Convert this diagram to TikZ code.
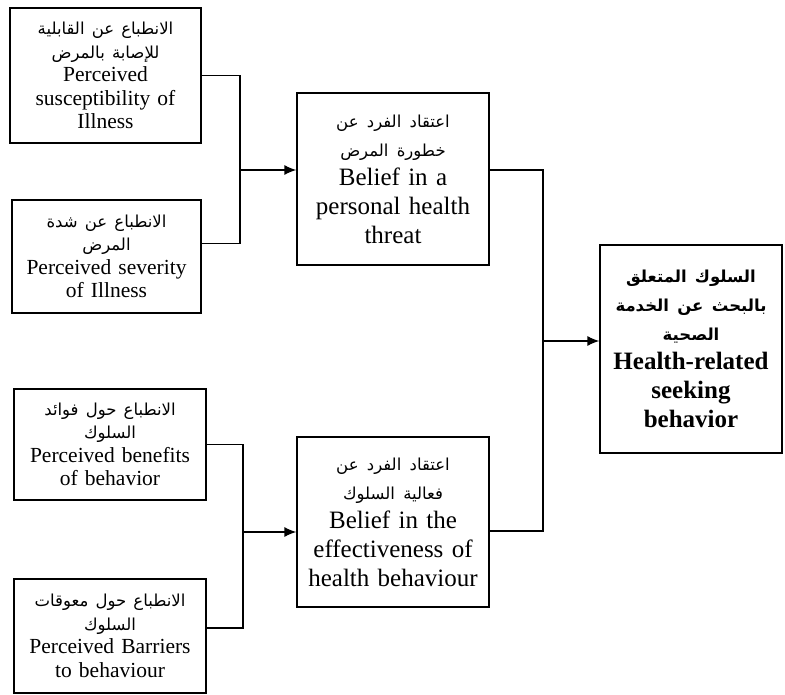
\documentclass[tikz,border=0pt]{standalone}
\usepackage{fontspec}
\setmainfont{Liberation Serif}
\newfontfamily\arabicfont[Script=Arabic]{DejaVu Sans}
\TeXXeTstate=1
\usetikzlibrary{arrows.meta,positioning}
\newcommand\artext[1]{{\arabicfont\fontsize{16.5}{23}\selectfont\beginR #1\endR}}

\begin{document}
\begin{tikzpicture}[x=1pt,y=-1pt,
  box/.style={draw,line width=1.3pt,inner sep=0pt,align=center},
  smallbox/.style={box,font=\fontsize{21.5}{23.5}\selectfont},
  midbox/.style={box,font=\fontsize{25}{29}\selectfont},
  link/.style={line width=1.3pt},
  arr/.style={line width=1.3pt,-{Latex[length=12pt,width=10pt]}}]
\useasboundingbox (0,0) rectangle (785,695);
% perception boxes
\node[smallbox,minimum width=191pt,minimum height=135pt,text width=185pt] (sus) at (105.5,75.5)
  {\artext{الانطباع عن القابلية}\\\artext{للإصابة بالمرض}\\Perceived\\susceptibility of\\Illness};
\node[smallbox,minimum width=189pt,minimum height=113pt,text width=183pt] (sev) at (106.5,256.5)
  {\artext{الانطباع عن شدة}\\\artext{المرض}\\Perceived severity\\of Illness};
\node[smallbox,minimum width=192pt,minimum height=111pt,text width=186pt] (ben) at (110,444.5)
  {\artext{الانطباع حول فوائد}\\\artext{السلوك}\\Perceived benefits\\of behavior};
\node[smallbox,minimum width=192pt,minimum height=114pt,text width=186pt] (bar) at (110,636)
  {\artext{الانطباع حول معوقات}\\\artext{السلوك}\\Perceived Barriers\\to behaviour};
% belief boxes
\node[midbox,minimum width=192pt,minimum height=172pt,text width=186pt] (thr) at (393,179)
  {\artext{اعتقاد الفرد عن}\\\artext{خطورة المرض}\\Belief in a\\personal health\\threat};
\node[midbox,minimum width=192pt,minimum height=170pt,text width=186pt] (eff) at (393,522)
  {\artext{اعتقاد الفرد عن}\\\artext{فعالية السلوك}\\Belief in the\\effectiveness of\\health behaviour\\[6pt]};
% outcome
\node[midbox,font=\fontsize{25}{29}\selectfont\bfseries,minimum width=182pt,minimum height=208pt,text width=178pt] (hsb) at (691,349)
  {\artext{السلوك المتعلق}\\\artext{بالبحث عن الخدمة}\\\artext{الصحية}\\Health-related\\seeking\\behavior};
% junctions
\coordinate (jthr) at (240,170);
\coordinate (jeff) at (243,532);
\coordinate (jhsb) at (543,341);
\draw[link] (sus.east) -| (jthr);
\draw[link] ([yshift=13pt]sev.east) -| (jthr);
\draw[arr] (jthr) -- (thr.west |- jthr);
\draw[link] (ben.east) -| (jeff);
\draw[link] ([yshift=8pt]bar.east) -| (jeff);
\draw[arr] (jeff) -- (eff.west |- jeff);
\draw[link] ([yshift=9pt]thr.east) -| (jhsb);
\draw[link] ([yshift=-9pt]eff.east) -| (jhsb);
\draw[arr] (jhsb) -- (hsb.west |- jhsb);
\end{tikzpicture}
\end{document}
